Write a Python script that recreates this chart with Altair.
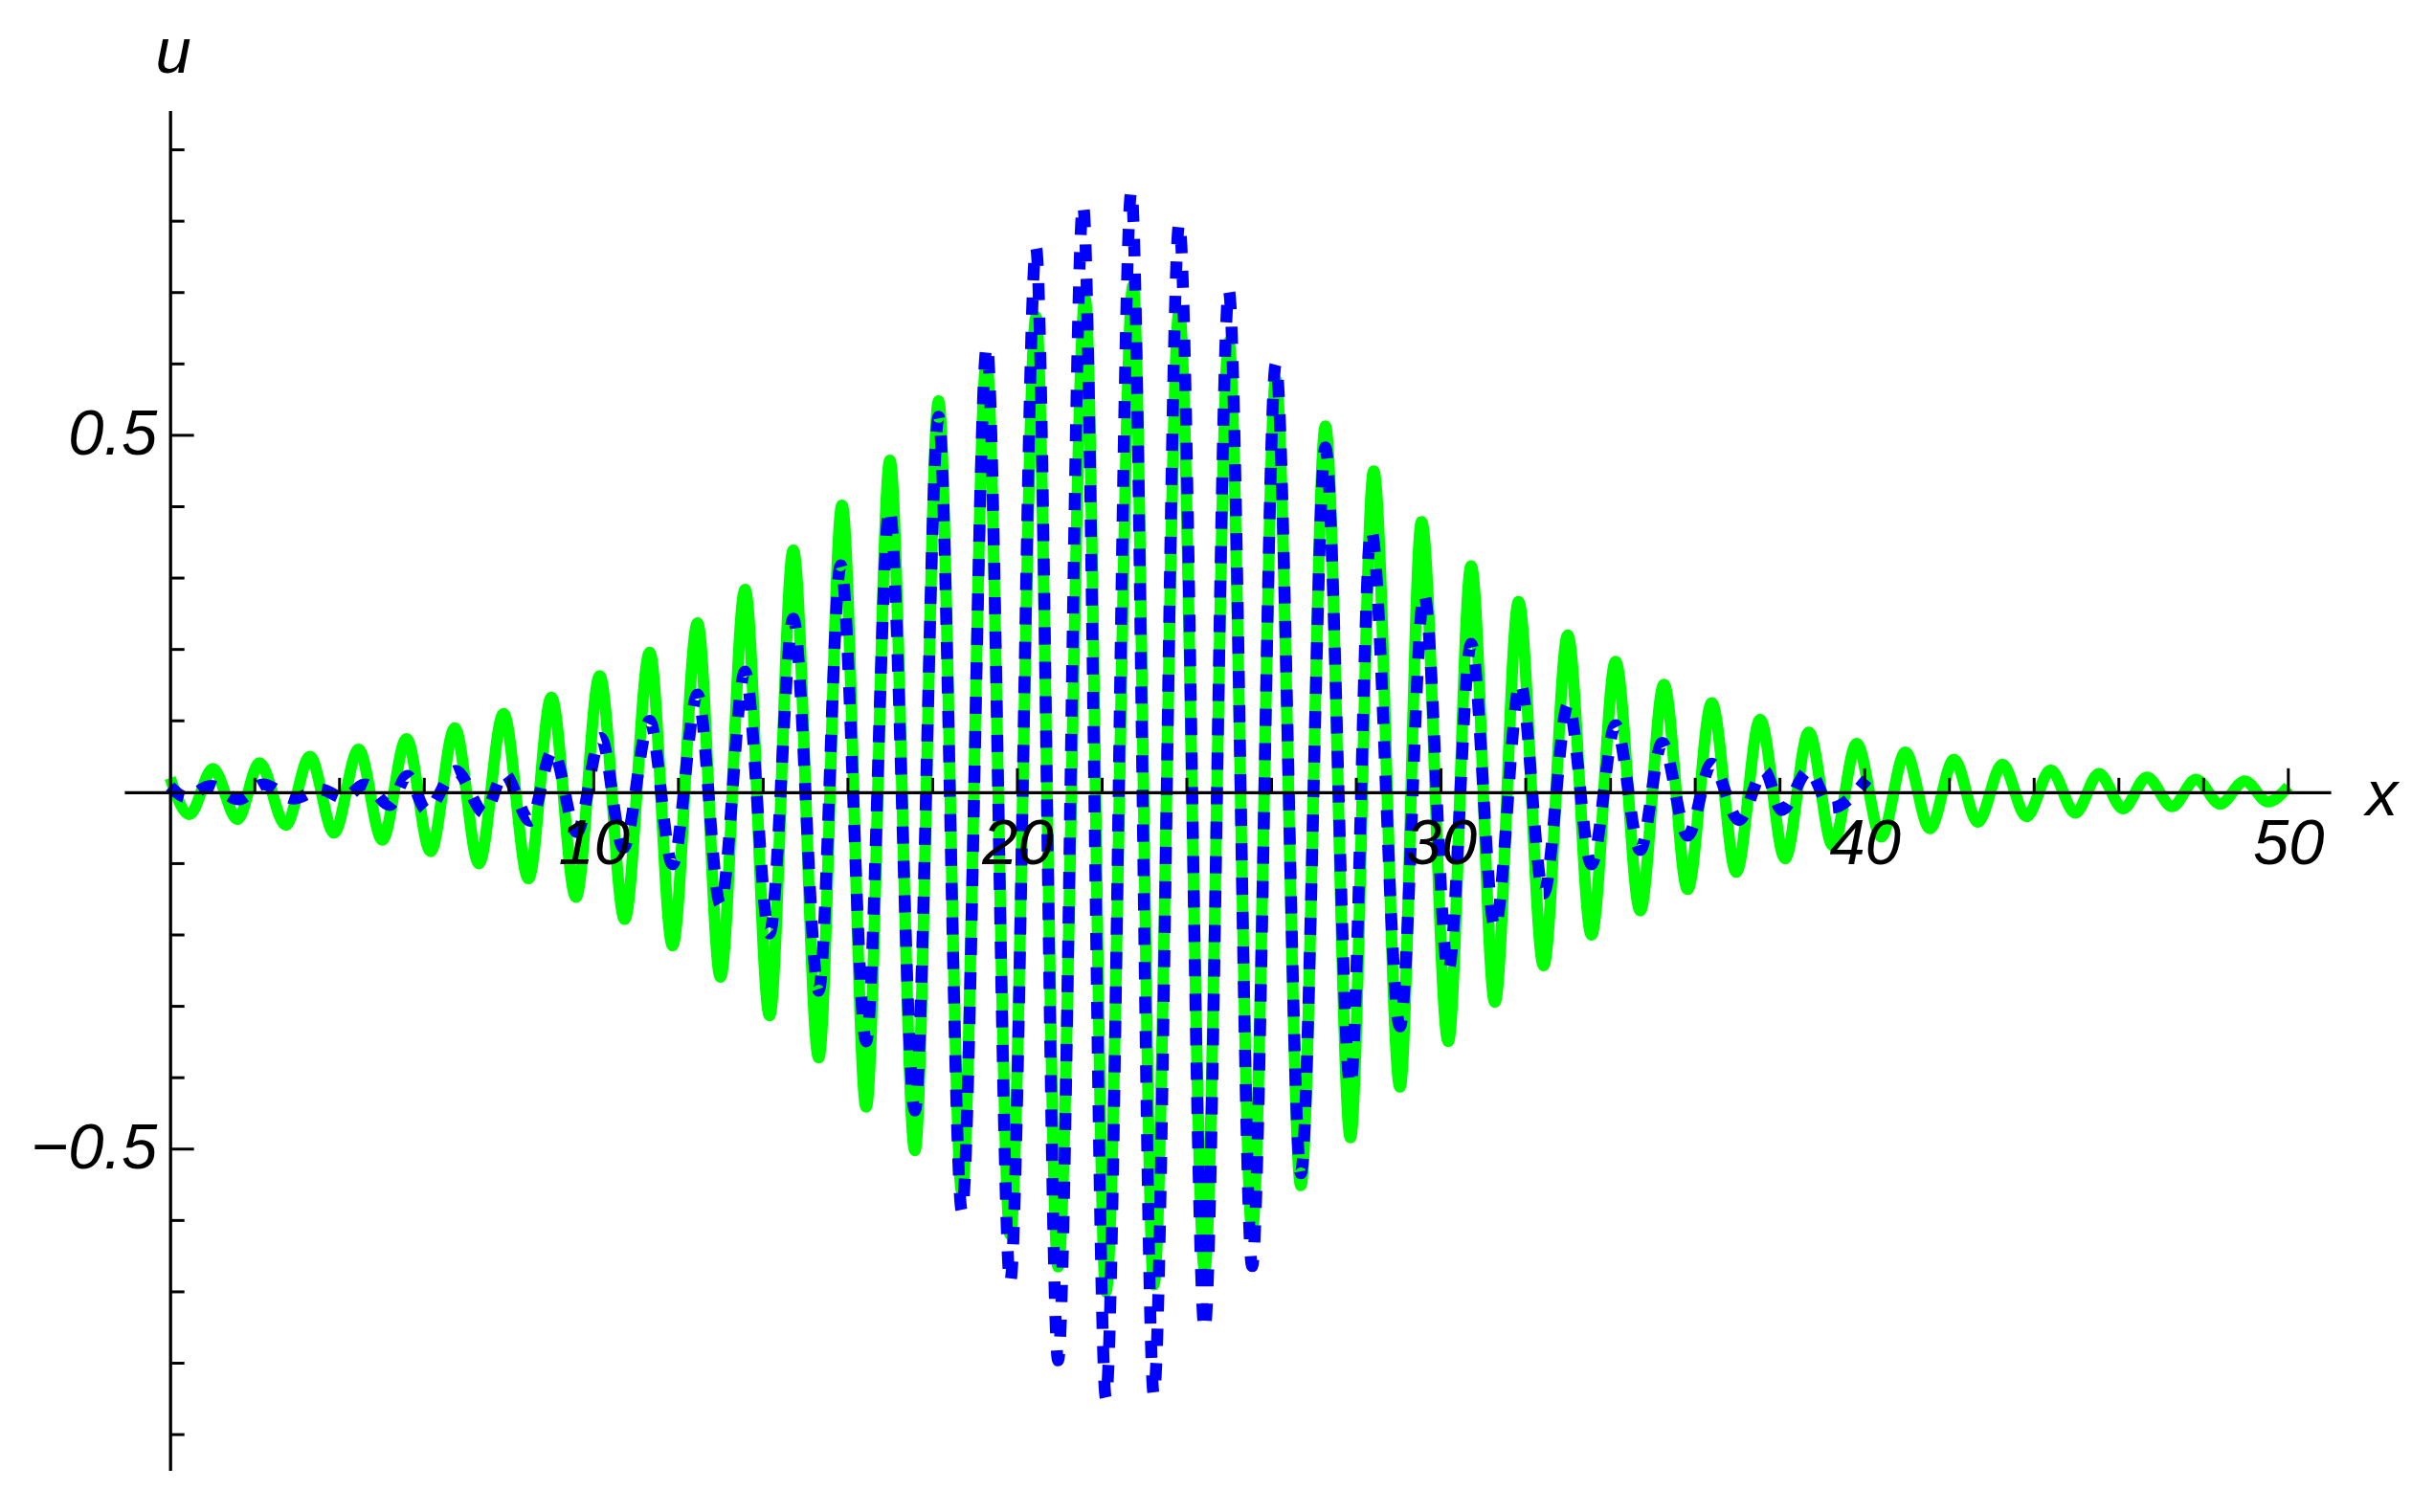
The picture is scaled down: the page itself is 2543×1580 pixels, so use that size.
import altair as alt
import pandas as pd

# ---- data (extrema of each curve) ----
green_x = [0.0, 0.46, 1.01, 1.59, 2.11, 2.73, 3.30, 3.87, 4.45, 5.01,
           5.58, 6.15, 6.72, 7.29, 7.87, 8.46, 9.00, 9.58, 10.14, 10.73,
           11.32, 11.86, 12.45, 12.99, 13.57, 14.15, 14.71, 15.31, 15.86, 16.43,
           16.99, 17.58, 18.14, 18.69, 19.27, 19.83, 20.44, 20.96, 21.60, 22.09,
           22.73, 23.22, 23.82, 24.42, 24.99, 25.54, 26.10, 26.69, 27.27, 27.86,
           28.41, 29.03, 29.54, 30.17, 30.71, 31.27, 31.83, 32.42, 32.99, 33.55,
           34.12, 34.70, 35.26, 35.82, 36.39, 36.97, 37.53, 38.12, 38.68, 39.25,
           39.81, 40.39, 40.96, 41.54, 42.11, 42.67, 43.25, 43.82, 44.39, 44.97,
           45.53, 46.10, 46.66, 47.26, 47.82, 48.39, 48.97, 49.52, 50.0]
green_u = [0.02, -0.031, 0.033, -0.038, 0.041, -0.046, 0.050, -0.057, 0.060, -0.067,
           0.075, -0.083, 0.090, -0.100, 0.110, -0.121, 0.133, -0.147, 0.163, -0.178,
           0.196, -0.215, 0.237, -0.259, 0.284, -0.313, 0.339, -0.372, 0.402, -0.441,
           0.465, -0.502, 0.548, -0.56, 0.604, -0.62, 0.666, -0.665, 0.692, -0.70,
           0.710, -0.69, 0.675, -0.669, 0.631, -0.615, 0.578, -0.551, 0.513, -0.484,
           0.450, -0.413, 0.379, -0.349, 0.317, -0.294, 0.267, -0.243, 0.220, -0.200,
           0.183, -0.166, 0.151, -0.136, 0.125, -0.112, 0.102, -0.093, 0.084, -0.075,
           0.068, -0.0625, 0.056, -0.051, 0.046, -0.042, 0.039, -0.034, 0.031, -0.029,
           0.026, -0.023, 0.021, -0.020, 0.018, -0.0165, 0.0156, -0.0134, 0.008]

blue_x = [0.0, 0.38, 0.95, 1.62, 2.2, 2.92, 3.55, 4.1, 4.6, 5.18,
          5.6, 6.05, 6.75, 7.42, 7.88, 8.5, 9.03, 9.6, 10.17, 10.7,
          11.32, 11.86, 12.45, 12.99, 13.57, 14.15, 14.71, 15.31, 15.83, 16.43,
          16.98, 17.58, 18.14, 18.69, 19.28, 19.83, 20.44, 20.96, 21.55, 22.09,
          22.69, 23.22, 23.82, 24.42, 24.99, 25.54, 26.10, 26.69, 27.27, 27.86,
          28.35, 29.03, 29.6, 30.17, 30.71, 31.27, 31.87, 32.42, 33.0, 33.55,
          34.12, 34.70, 35.22, 35.82, 36.39, 37.03, 37.63, 38.04, 38.68, 39.21,
          40.05]
blue_u = [0.008, -0.007, 0.009, -0.010, 0.011, -0.009, 0.004, -0.008, 0.011, -0.018,
          0.023, -0.025, 0.030, -0.029, 0.026, -0.040, 0.058, -0.056, 0.076, -0.078,
          0.100, -0.101, 0.137, -0.157, 0.169, -0.198, 0.243, -0.278, 0.318, -0.349,
          0.396, -0.446, 0.526, -0.587, 0.625, -0.686, 0.763, -0.796, 0.822, -0.849,
          0.842, -0.844, 0.797, -0.752, 0.703, -0.664, 0.600, -0.534, 0.483, -0.410,
          0.367, -0.328, 0.277, -0.250, 0.208, -0.189, 0.153, -0.142, 0.123, -0.101,
          0.094, -0.081, 0.069, -0.061, 0.040, -0.039, 0.030, -0.025, 0.030, -0.022,
          0.018]

x_major = [10, 20, 30, 40, 50]
x_minor = [2, 4, 6, 8, 12, 14, 16, 18, 22, 24, 26, 28, 32, 34, 36, 38, 42, 44, 46, 48]
y_major = [-0.5, 0.5]
y_minor = [-0.9, -0.8, -0.7, -0.6, -0.4, -0.3, -0.2, -0.1,
           0.1, 0.2, 0.3, 0.4, 0.6, 0.7, 0.8, 0.9]

# ---- layout ----
W, H = 2307, 1422
XDOM = [-1.08, 51.0]
YDOM = [-0.95, 0.955]
FONT = "Liberation Sans"
FS = 67

x_axis_offset = -H * (0 - YDOM[0]) / (YDOM[1] - YDOM[0])
y_axis_offset = -W * (0 - XDOM[0]) / (XDOM[1] - XDOM[0])

xscale = alt.Scale(domain=XDOM, nice=False, zero=False)
yscale = alt.Scale(domain=YDOM, nice=False, zero=False)

xaxis = alt.Axis(orient="bottom", offset=x_axis_offset, values=x_major,
                 ticks=False, tickSize=0, grid=False, labelPadding=22,
                 labelFont=FONT, labelFontSize=FS, labelFontStyle="italic",
                 labelColor="black", labelFlush=False, labelOverlap=False,
                 domainColor="black", domainWidth=3.3, zindex=1,
                 title="x", titleFont=FONT, titleFontSize=FS, titleFontStyle="italic",
                 titleFontWeight="normal", titleColor="black",
                 titleX=2360, titleY=24, titleAlign="center", titleBaseline="alphabetic")
yaxis = alt.Axis(orient="left", offset=y_axis_offset, values=y_major,
                 labelExpr="replace(format(datum.value, '.1f'), '-', '\u2212')",
                 ticks=False, tickSize=0, grid=False, labelPadding=14,
                 labelFont=FONT, labelFontSize=FS, labelFontStyle="italic",
                 labelColor="black", labelFlush=False, labelOverlap=False,
                 domainColor="black", domainWidth=3.3, zindex=1,
                 title="u", titleFont=FONT, titleFontSize=FS, titleFontStyle="italic",
                 titleFontWeight="normal", titleColor="black", titleAngle=0,
                 titleX=3, titleY=-40, titleAlign="center", titleBaseline="alphabetic")

green_df = pd.DataFrame({"x": green_x, "u": green_u})
blue_df = pd.DataFrame({"x": blue_x, "u": blue_u})

X = alt.X("x:Q", scale=xscale, axis=xaxis)
Y = alt.Y("u:Q", scale=yscale, axis=yaxis)

green = alt.Chart(green_df).mark_line(
    interpolate="monotone", color="#00ff00", strokeWidth=12,
    strokeCap="butt", strokeJoin="round"
).encode(x=X, y=Y)

blue = alt.Chart(blue_df).mark_line(
    interpolate="monotone", color="#0000ff", strokeWidth=12.5,
    strokeDash=[18, 18], strokeCap="butt", strokeJoin="round"
).encode(x=X, y=Y)

def xticks(vals, length):
    return alt.Chart(pd.DataFrame({"x": vals})).mark_rule(
        color="black", strokeWidth=3, y2Offset=-length
    ).encode(x=X, y=alt.YDatum(0, scale=yscale, axis=yaxis), y2=alt.Y2Datum(0))

def yticks(vals, length):
    return alt.Chart(pd.DataFrame({"u": vals})).mark_rule(
        color="black", strokeWidth=3, x2Offset=length
    ).encode(y=Y, x=alt.XDatum(0, scale=xscale, axis=xaxis), x2=alt.X2Datum(0))

chart = alt.layer(
    green, blue,
    xticks(x_minor, 15), xticks(x_major, 25),
    yticks(y_minor, 15), yticks(y_major, 25),
).properties(
    width=W, height=H,
    autosize=alt.AutoSizeParams(type="none"),
    padding={"left": 122, "top": 107, "right": 100, "bottom": 30},
    background="white",
).configure_view(stroke=None)

chart.save("out.html", embed_options={"renderer": "svg", "actions": False})
